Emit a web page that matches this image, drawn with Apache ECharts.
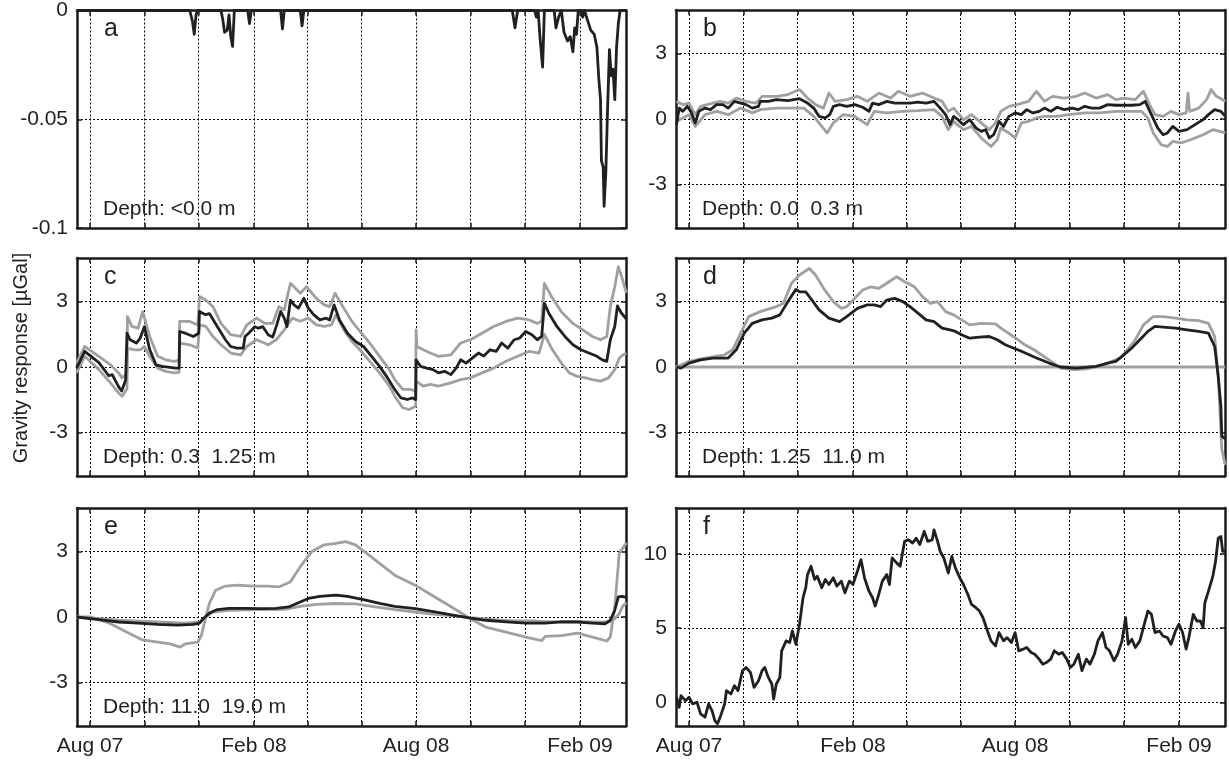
<!DOCTYPE html>
<html><head><meta charset="utf-8">
<script src="https://cdn.jsdelivr.net/npm/echarts@6/dist/echarts.min.js"></script>
<style>html,body{margin:0;padding:0;background:#fff}#c{width:1229px;height:766px}</style>
</head><body><div id="c"></div>
<script>
// ---- time axis (days since 2007-08-01) ----
const startDate = '2007-08-01';
const xMinDay = -14.6, xMaxDay = 601.6;
const gridDates = ['2007-08-01','2007-10-01','2007-12-01','2008-02-01','2008-04-01','2008-06-01','2008-08-01','2008-10-01','2008-12-01','2009-02-01'];
const labelDates = ['2007-08-01','2008-02-01','2008-08-01','2009-02-01'];
const tickLabels = ['Aug 07','Feb 08','Aug 08','Feb 09'];
const yTicksA = [-0.1,-0.05,0];
const yTicksMid = [-3,0,3];
const yTicksF = [0,5,10];
const panelLetters = ['a','b','c','d','e','f'];
const depthLabels = ['Depth: <0.0 m','Depth: 0.0  0.3 m','Depth: 0.3  1.25 m','Depth: 1.25  11.0 m','Depth: 11.0  19.0 m',''];
const yTitle = 'Gravity response [\u00b5Gal]';

// ---- series: [day, value] ----
const aMid = [[-15,0],[112,0],[115,-0.005],[117,-0.011],[119,-0.002],[121,0],[147,0],[149,-0.004],[151,-0.010],[154,-0.009],[156,-0.002],[158,-0.012],[160,-0.0165],[162,0],[177,0],[179,-0.006],[181,0],[214,0],[216,-0.0084],[218,0],[236,0],[238,-0.007],[240,0],[474,0],[477,-0.008],[480,0],[499,0],[501,-0.003],[503,0],[505,-0.012],[508,-0.026],[510,0],[521,0],[523,-0.008],[526,-0.003],[529,0],[532,-0.01],[536,-0.014],[539,-0.012],[542,-0.019],[544,-0.008],[546,-0.011],[548,0],[551,0],[553,-0.003],[555,0],[558,-0.004],[562,-0.009],[566,-0.011],[569,-0.017],[571,-0.031],[573,-0.041],[574,-0.069],[576,-0.072],[577,-0.09],[579,-0.074],[581,-0.044],[583,-0.018],[585,-0.03],[587,-0.027],[589,-0.041],[591,-0.017],[593,-0.006],[595,0],[602,0]];

const bMid = [[-14,-0.26],[-11,0.5],[-7,0.35],[-2,0.58],[2,0.35],[7,-0.18],[11,0.35],[18,0.5],[24,0.43],[31,0.66],[38,0.66],[44,0.5],[51,0.81],[58,0.73],[64,0.66],[71,0.5],[78,0.58],[80,0.81],[89,0.81],[98,0.89],[111,0.84],[124,0.93],[133,0.73],[140,0.5],[146,0.12],[153,0.05],[158,0.2],[162,0.58],[169,0.66],[177,0.58],[186,0.66],[195,0.54],[202,0.35],[206,0.73],[213,0.66],[222,0.81],[231,0.73],[240,0.73],[248,0.73],[257,0.77],[266,0.73],[275,0.81],[282,0.5],[288,0.2],[293,-0.26],[297,0.12],[302,-0.03],[308,-0.26],[315,-0.03],[322,-0.41],[328,-0.57],[333,-0.49],[337,-0.87],[342,-0.72],[348,-0.11],[353,-0.34],[359,0.12],[366,0.28],[373,0.2],[379,0.43],[386,0.28],[393,0.35],[399,0.5],[406,0.35],[413,0.54],[421,0.43],[430,0.5],[437,0.43],[444,0.58],[452,0.5],[461,0.5],[470,0.66],[479,0.63],[488,0.63],[497,0.63],[506,0.66],[512,0.81],[519,0.2],[526,-0.41],[532,-0.72],[537,-0.64],[543,-0.34],[550,-0.57],[559,-0.49],[568,-0.26],[577,-0.03],[583,0.2],[590,0.43],[597,0.35],[602,0.12]];
const bHi = [[-14,0.8],[-7,0.66],[0,0.73],[7,0.2],[13,0.58],[27,0.73],[35,0.81],[44,0.73],[53,0.96],[64,0.81],[75,0.73],[82,1.04],[98,1.04],[111,1.12],[124,1.35],[133,0.96],[142,0.66],[151,0.5],[157,1.19],[164,0.81],[177,0.89],[189,1.04],[200,0.81],[213,1.19],[226,0.96],[235,1.27],[248,1.04],[262,1.19],[275,0.96],[284,0.81],[291,0.35],[297,0.5],[308,-0.03],[317,0.2],[328,-0.18],[337,-0.49],[344,-0.18],[350,0.35],[359,0.58],[368,0.66],[381,0.81],[390,1.27],[399,0.81],[408,1.04],[421,0.96],[435,1.04],[444,1.19],[457,0.96],[470,1.12],[479,0.89],[488,0.96],[501,0.89],[510,1.27],[517,0.66],[523,0.2],[532,0.12],[541,0.35],[550,0.2],[558,0.28],[560,1.19],[562,0.35],[572,0.5],[581,0.89],[586,1.35],[592,1.04],[602,0.81]];
const bLo = [[-14,-0.11],[-7,0.05],[0,0.2],[7,-0.34],[18,0.2],[31,0.35],[44,0.2],[58,0.5],[71,0.28],[80,0.43],[98,0.5],[115,0.5],[129,0.5],[140,0.12],[149,-0.34],[155,-0.64],[162,-0.18],[173,0.2],[186,0.12],[200,-0.26],[208,0.35],[222,0.28],[240,0.35],[257,0.38],[275,0.43],[284,0.12],[291,-0.49],[297,-0.11],[308,-0.49],[317,-0.34],[328,-0.87],[339,-1.26],[346,-0.95],[350,-0.41],[359,-0.64],[366,-0.87],[373,-0.18],[381,-0.11],[390,0.05],[399,0.12],[413,0.12],[426,0.2],[444,0.28],[461,0.28],[479,0.35],[497,0.35],[508,0.35],[515,0.05],[521,-0.64],[530,-1.18],[537,-1.26],[543,-1.03],[552,-1.1],[563,-0.95],[577,-0.72],[588,-0.49],[602,-0.64]];

const cMid = [[-15,-0.05],[-6,0.72],[10,0.2],[21,-0.4],[25,-0.35],[32,-0.9],[35.5,-1.1],[40,-0.6],[41.5,1.55],[45,1.25],[52,1.1],[56,1.3],[61,1.85],[67,0.8],[74,0.1],[81,0.03],[96,-0.05],[100,-0.05],[100.7,1.63],[107,1.55],[116,1.4],[122,1.55],[122.9,2.55],[125,2.6],[129.5,2.4],[134,2.45],[143,1.85],[152,1.25],[158,0.94],[165,0.87],[172,0.87],[174,1.4],[178,1.55],[185,1.85],[189,1.78],[194,1.85],[200,1.48],[205,1.37],[209,1.85],[214,2.55],[218,2.24],[221,1.85],[225,3.07],[229,2.85],[234,2.7],[240,3.15],[245,2.7],[251,2.4],[258,2.16],[265,2.24],[269,2.16],[274,2.85],[280,2.16],[289,1.55],[298,1.17],[307,0.94],[316,0.49],[325,0.03],[334,-0.5],[342,-1.03],[349,-1.42],[356,-1.49],[362,-1.42],[365.5,-1.49],[366,0.33],[371,0.03],[378,-0.05],[385,-0.12],[391,-0.27],[398,-0.2],[405,-0.35],[411,-0.05],[416,0.33],[422,0.18],[429,0.41],[436,0.64],[442,0.5],[449,0.79],[456,0.72],[462,1.1],[469,0.87],[476,1.25],[482,1.32],[489,1.63],[496,1.48],[502,1.25],[507,1.4],[510,2.92],[515,2.47],[524,1.86],[533,1.4],[542,1.02],[551,0.79],[560,0.64],[569,0.49],[575,0.33],[580,0.26],[584,1.25],[589,1.86],[592,2.8],[596,2.5],[602,2.2]];
const cHi = [[-15,0.18],[-6,0.94],[10,0.49],[23,0.1],[32,-0.27],[36,-0.5],[41.5,-0.3],[42,2.31],[47,1.86],[54,1.78],[59,2.54],[67,1.4],[76,0.49],[85,0.33],[94,0.26],[100,0.3],[100.7,2.09],[112,2.09],[121,1.93],[122.9,3.23],[130,3.07],[138,2.77],[147,2.0],[158,1.48],[169,1.4],[176,1.93],[187,2.24],[196,2.0],[205,2.0],[212,2.77],[218,2.62],[225,3.84],[236,3.38],[243,3.68],[254,3.15],[263,2.85],[269,2.77],[275,3.38],[285,2.69],[294,2.09],[303,1.63],[314,1.1],[325,0.49],[336,-0.12],[342,-0.58],[351,-1.03],[360,-1.03],[365.5,-1.11],[366,1.7],[367,0.94],[374,0.79],[382,0.64],[391,0.49],[405,0.56],[416,1.1],[427,1.25],[440,1.55],[453,1.86],[467,2.09],[480,2.24],[493,2.16],[502,2.0],[507,2.1],[510,3.84],[518,3.23],[529,2.54],[542,2.0],[553,1.7],[564,1.4],[573,1.25],[580,1.4],[584,2.77],[589,3.68],[593,4.6],[597,4.1],[602,3.4]];
const cLo = [[-15,-0.27],[-6,0.49],[10,-0.12],[23,-0.73],[32,-1.19],[36,-1.34],[41.5,-1.0],[42,0.87],[50,0.79],[56,0.79],[61,0.94],[67,0.49],[76,-0.05],[85,-0.2],[94,-0.27],[100,-0.25],[100.7,1.1],[112,1.02],[121,0.87],[122.9,1.93],[130,1.86],[138,1.4],[147,1.02],[158,0.64],[169,0.56],[176,0.94],[187,1.25],[200,1.02],[209,1.25],[218,1.7],[227,2.24],[236,2.1],[245,2.24],[254,1.93],[263,1.86],[271,1.93],[276,2.39],[285,1.7],[294,1.17],[303,0.79],[314,0.26],[325,-0.27],[336,-0.88],[342,-1.34],[351,-1.87],[358,-1.95],[365.5,-1.8],[366,-0.65],[374,-0.88],[382,-0.8],[391,-0.88],[405,-0.73],[416,-0.58],[427,-0.5],[440,-0.27],[453,-0.05],[467,0.26],[480,0.49],[493,0.72],[504,0.64],[510,1.5],[519,0.79],[529,0.18],[538,-0.27],[547,-0.43],[556,-0.5],[564,-0.58],[573,-0.65],[582,-0.5],[589,-0.12],[594,0.4],[598,0.55],[602,0.64]];

const dMid = [[-14,0],[-9,-0.05],[0,0.18],[13,0.33],[27,0.41],[44,0.41],[53,0.79],[62,1.55],[71,2.0],[82,2.16],[93,2.24],[102,2.39],[111,3.0],[120,3.56],[124,3.45],[131,3.45],[138,3.07],[146,2.62],[157,2.24],[169,2.08],[177,2.31],[189,2.69],[200,2.85],[208,2.85],[215,2.77],[222,3.07],[231,3.15],[240,3.0],[248,2.77],[257,2.47],[266,2.16],[275,2.08],[284,1.78],[293,1.7],[299,1.63],[306,1.48],[315,1.32],[326,1.37],[337,1.4],[346,1.25],[355,1.02],[373,0.72],[390,0.41],[404,0.18],[417,0],[435,-0.05],[457,0.03],[470,0.18],[479,0.26],[488,0.56],[497,0.87],[506,1.25],[515,1.63],[523,1.86],[532,1.83],[546,1.78],[559,1.7],[572,1.63],[583,1.55],[590,0.94],[594,-0.43],[597,-1.8],[598,-3.17],[602,-3.3]];
const dHi = [[-14,0],[0,0.26],[18,0.41],[40,0.56],[49,0.79],[58,1.55],[67,2.31],[80,2.54],[98,2.77],[106,2.92],[115,3.84],[124,4.22],[135,4.52],[142,4.22],[151,3.61],[162,3.0],[171,2.69],[177,2.77],[186,3.15],[195,3.53],[204,3.68],[213,3.61],[222,3.84],[233,4.14],[242,3.91],[253,3.68],[262,3.23],[271,2.92],[279,3.0],[288,2.54],[297,2.39],[306,2.16],[315,1.93],[328,2.0],[344,1.98],[350,1.78],[364,1.4],[377,1.02],[390,0.72],[404,0.33],[417,-0.05],[430,-0.12],[444,-0.1],[457,0],[470,0.18],[484,0.41],[492,0.79],[501,1.25],[510,1.93],[521,2.31],[532,2.31],[546,2.24],[559,2.16],[572,2.13],[583,2.0],[590,1.4],[594,-0.43],[598,-3.77],[602,-4.5]];
const dLo = [[-15,0],[602,0]];

const eMid = [[-15,0],[10,-0.12],[32,-0.23],[54,-0.28],[76,-0.34],[98,-0.37],[116,-0.34],[123,-0.28],[127,-0.08],[134,0.18],[143,0.34],[156,0.4],[174,0.4],[192,0.38],[209,0.4],[223,0.46],[232,0.62],[245,0.85],[258,0.95],[276,1.0],[289,0.95],[307,0.8],[325,0.62],[342,0.49],[365,0.38],[387,0.23],[409,0.08],[427,-0.05],[444,-0.15],[467,-0.22],[489,-0.28],[511,-0.28],[529,-0.22],[547,-0.23],[564,-0.28],[578,-0.31],[584,-0.15],[589,0.31],[593,0.92],[597,0.95],[602,0.9]];
const eHi = [[-15,0],[1,0],[23,-0.31],[41,-0.69],[59,-1.05],[76,-1.15],[90,-1.23],[101,-1.38],[107,-1.23],[121,-1.15],[125,-0.85],[130,0],[134,0.62],[141,1.23],[152,1.42],[165,1.46],[183,1.42],[200,1.42],[212,1.38],[225,1.62],[236,2.31],[249,3.0],[263,3.31],[276,3.38],[287,3.46],[298,3.31],[320,2.62],[342,1.92],[365,1.46],[387,0.92],[409,0.38],[427,-0.08],[444,-0.46],[467,-0.69],[489,-0.92],[507,-1.08],[511,-0.89],[529,-0.85],[547,-0.74],[564,-0.92],[580,-1.1],[584,-0.92],[589,0.46],[594,2.92],[602,3.4]];
const eLo = [[-15,0],[32,-0.15],[76,-0.23],[107,-0.28],[123,-0.23],[130,0],[138,0.23],[156,0.31],[187,0.34],[218,0.35],[236,0.49],[254,0.58],[276,0.62],[298,0.6],[320,0.46],[342,0.34],[365,0.23],[387,0.12],[409,0.05],[427,-0.03],[453,-0.12],[476,-0.18],[498,-0.18],[520,-0.22],[542,-0.2],[564,-0.23],[582,-0.23],[589,-0.08],[594,0.15],[598,0.5],[602,0.65]];

const fMid = [[-14,0.34],[-11,-0.34],[-9,0.45],[-4,0.11],[0,0.34],[4,-0.11],[9,0],[13,-0.78],[18,-1.0],[22,-0.11],[26,-0.6],[29,-1.23],[32,-1.45],[35,-1.0],[40,-0.11],[42,0.78],[47,0.56],[51,1.12],[55,0.78],[60,2.13],[64,2.35],[69,2.01],[73,1.0],[78,1.45],[82,2.13],[85,2.35],[89,1.68],[93,1.23],[95,0.22],[98,1.23],[102,1.68],[104,3.47],[109,4.14],[113,4.03],[116,4.81],[120,3.91],[124,5.26],[128,7.05],[131,7.72],[133,8.61],[137,9.17],[141,8.28],[144,8.5],[149,7.72],[153,8.28],[157,7.94],[162,8.39],[166,7.83],[171,8.17],[175,7.38],[180,8.17],[184,7.94],[189,8.84],[193,9.62],[197,8.39],[202,7.49],[206,7.05],[209,6.49],[213,7.27],[217,8.17],[222,8.61],[225,7.94],[228,9.73],[233,9.4],[237,9.17],[242,10.85],[246,10.96],[251,10.74],[255,11.07],[259,10.63],[264,11.52],[268,10.85],[273,10.96],[275,11.63],[279,10.85],[282,10.18],[286,9.73],[291,8.72],[295,9.84],[299,9.06],[304,8.39],[308,7.94],[313,7.27],[317,6.6],[322,6.38],[326,6.15],[330,5.7],[335,4.81],[339,4.14],[344,3.8],[348,4.7],[353,4.14],[357,4.36],[362,4.03],[366,4.7],[370,3.47],[375,3.58],[379,3.69],[384,3.36],[388,3.24],[393,2.91],[397,2.57],[401,2.68],[406,2.91],[410,3.47],[415,3.24],[419,3.36],[424,2.91],[428,2.35],[432,2.57],[437,3.24],[441,2.13],[446,2.91],[450,2.57],[455,3.24],[459,4.14],[464,4.7],[468,3.69],[472,3.47],[477,2.8],[481,3.24],[486,4.14],[490,5.7],[493,3.91],[497,4.25],[501,3.69],[506,4.14],[510,5.03],[515,6.15],[519,5.93],[523,4.7],[528,4.81],[532,4.47],[537,4.36],[541,3.91],[546,4.81],[550,5.26],[554,4.7],[558,3.58],[561,4.36],[566,5.93],[570,5.48],[574,5.48],[577,5.03],[579,6.71],[583,7.49],[588,8.5],[591,9.51],[594,11.07],[597,11.18],[599,10.18],[602,10.2]];

// ---- styling / layout ----
const BLACK = '#231f20', GRAY = '#a0a0a0', FRAME = '#1a1a1a';
const FONT = '"Liberation Sans", Arial, Helvetica, sans-serif';
const COL_LEFT = [77, 676], PW = 549, PH = 218, ROW_TOP = [10, 258, 508];

const DAYMS = 86400000;
const T0 = new Date(startDate + 'T00:00:00Z').getTime();
const toT = d => T0 + d * DAYMS;
const ts = s => new Date(s + 'T00:00:00Z').getTime();
const gridTs = gridDates.map(ts);
const labelTs = labelDates.map(ts);
const toSeries = arr => arr.map(p => [toT(p[0]), p[1]]);

const panels = [
  {min:-0.1, max:0, ticks:yTicksA, lines:[[aMid,BLACK]]},
  {min:-5, max:5, ticks:yTicksMid, lines:[[bHi,GRAY],[bLo,GRAY],[bMid,BLACK]]},
  {min:-5, max:5, ticks:yTicksMid, lines:[[cHi,GRAY],[cLo,GRAY],[cMid,BLACK]]},
  {min:-5, max:5, ticks:yTicksMid, lines:[[dLo,GRAY],[dHi,GRAY],[dMid,BLACK]]},
  {min:-5, max:5, ticks:yTicksMid, lines:[[eHi,GRAY],[eLo,GRAY],[eMid,BLACK]]},
  {min:-1.6, max:13.1, ticks:yTicksF, lines:[[fMid,BLACK]]}
];

const grid = [], xAxis = [], yAxis = [], series = [], graphic = [];
const dotted = {color:'#000', width:1, type:[2,2]};
const frameLine = {show:true, onZero:false, lineStyle:{color:FRAME, width:2.5}};
panels.forEach((p, i) => {
  const row = Math.floor(i / 2), col = i % 2;
  const left = COL_LEFT[col], top = ROW_TOP[row];
  grid.push({left, top, width:PW, height:PH, containLabel:false});
  const xBase = {type:'value', gridIndex:i, min:toT(xMinDay), max:toT(xMaxDay), scale:true};
  xAxis.push(Object.assign({}, xBase, {
    position:'bottom', axisLine:frameLine,
    axisTick:{show:true, inside:true, length:5, customValues:gridTs, lineStyle:{color:FRAME, width:1.5}},
    axisLabel:{show:row===2, customValues:labelTs, margin:10, fontSize:21, fontFamily:FONT, color:BLACK,
      formatter:v => { const k = labelTs.indexOf(v); return k >= 0 ? tickLabels[k] : ''; }},
    splitLine:{show:true, lineStyle:dotted}
  }));
  xAxis.push(Object.assign({}, xBase, {
    position:'top', axisLine:frameLine,
    axisTick:{show:true, inside:true, length:5, customValues:gridTs, lineStyle:{color:FRAME, width:1.5}},
    axisLabel:{show:false}, splitLine:{show:false}
  }));
  const yBase = {type:'value', gridIndex:i, min:p.min, max:p.max};
  yAxis.push(Object.assign({}, yBase, {
    position:'left', axisLine:frameLine,
    axisTick:{show:true, inside:true, length:5, customValues:p.ticks, lineStyle:{color:FRAME, width:1.5}},
    axisLabel:{show:true, customValues:p.ticks, margin:9, fontSize:21, fontFamily:FONT, color:BLACK, formatter:v => String(v)},
    splitLine:{show:true, lineStyle:dotted}
  }));
  yAxis.push(Object.assign({}, yBase, {
    position:'right', axisLine:frameLine,
    axisTick:{show:true, inside:true, length:5, customValues:p.ticks, lineStyle:{color:FRAME, width:1.5}},
    axisLabel:{show:false}, splitLine:{show:false}
  }));
  p.lines.forEach(([arr, color]) => {
    series.push({type:'line', xAxisIndex:2*i, yAxisIndex:2*i, data:toSeries(arr), showSymbol:false,
      symbol:'none', clip:true, lineStyle:{color, width:2.8, join:'round'}, z:color===BLACK?4:3, silent:true});
  });
  graphic.push({type:'text', x:left+27, y:top+19, style:{text:panelLetters[i], font:'25px '+FONT, fill:BLACK, align:'left', verticalAlign:'middle'}, z:10});
  if (depthLabels[i]) graphic.push({type:'text', x:left+26, y:top+199, style:{text:depthLabels[i], font:'21px '+FONT, fill:BLACK, align:'left', verticalAlign:'middle'}, z:10});
});
graphic.push({type:'text', x:21, y:358, rotation:Math.PI/2, style:{text:yTitle, font:'20px '+FONT, fill:BLACK, align:'center', verticalAlign:'middle'}, z:10});

const chart = echarts.init(document.getElementById('c'), null, {renderer:'canvas'});
chart.setOption({animation:false, backgroundColor:'#fff', grid, xAxis, yAxis, series, graphic});
</script></body></html>
